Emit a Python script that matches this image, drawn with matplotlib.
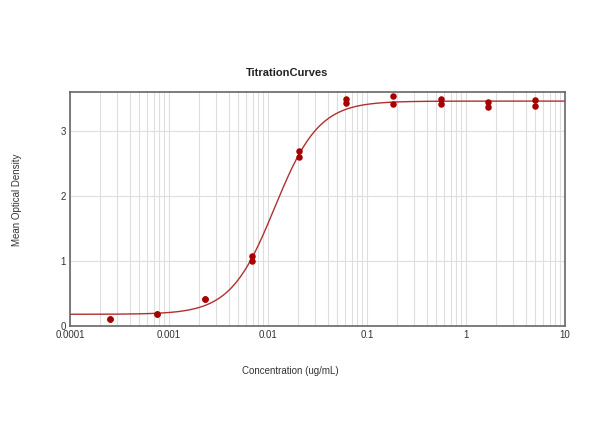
import matplotlib.pyplot as plt
import numpy as np
from matplotlib.ticker import LogLocator, FixedLocator, FixedFormatter

plt.rcParams["font.family"] = ["Liberation Sans", "DejaVu Sans"]

# 3-fold dilution series (ug/mL), duplicate readings
concentration = [5.0, 1.667, 0.556, 0.185, 0.0617, 0.0206, 0.00686, 0.00229, 0.000762, 0.000254]
od_rep1 = [3.48, 3.44, 3.49, 3.54, 3.49, 2.70, 1.07, 0.42, 0.19, 0.11]
od_rep2 = [3.38, 3.37, 3.41, 3.42, 3.43, 2.60, 1.00, 0.42, 0.19, 0.11]

# 4PL fit parameters
fit_bottom = 0.18
fit_top = 3.46
fit_ec50 = 0.01167
fit_hill = 1.94

x_ticks = [0.0001, 0.001, 0.01, 0.1, 1, 10]
x_tick_labels = ["0.0001", "0.001", "0.01", "0.1", "1", "10"]
y_ticks = [0, 1, 2, 3]

fig = plt.figure(figsize=(6, 4.47), dpi=100)
ax = fig.add_axes([70 / 600, 1 - 326 / 447, 495 / 600, 234 / 447])

xs = np.logspace(-4, 1, 400)
curve = fit_top + (fit_bottom - fit_top) / (1 + (xs / fit_ec50) ** fit_hill)
ax.plot(xs, curve, color="#b03030", lw=1.0, zorder=2)

conc = np.array(concentration)
ax.scatter(np.concatenate([conc, conc]), od_rep1 + od_rep2,
           s=22, color="#a80000", zorder=3, linewidths=0)

ax.set_xscale("log")
ax.set_xlim(1e-4, 10)
ax.set_ylim(0, 3.6)
ax.xaxis.set_major_locator(FixedLocator(x_ticks))
ax.xaxis.set_major_formatter(FixedFormatter(x_tick_labels))
ax.xaxis.set_minor_locator(LogLocator(base=10, subs=np.arange(2, 10)))
ax.xaxis.set_minor_formatter(plt.NullFormatter())
ax.set_yticks(y_ticks)

ax.grid(True, which="both", axis="x", color="#dedede", lw=0.8)
ax.grid(True, which="major", axis="y", color="#dedede", lw=0.8)
ax.set_axisbelow(True)
ax.tick_params(which="both", length=0, labelsize=7, colors="#333333", pad=3)
for sp in ax.spines.values():
    sp.set_color("#666666")
    sp.set_linewidth(1.2)

fig.text(287 / 600, 1 - 73 / 447, "TitrationCurves", ha="center", va="center",
         fontsize=8, fontweight="bold", color="#222222")
fig.text(290 / 600, 1 - 371 / 447, "Concentration (ug/mL)", ha="center", va="center",
         fontsize=7, color="#333333")
fig.text(17 / 600, 1 - 200 / 447, "Mean Optical Density", ha="center", va="center",
         rotation=90, fontsize=7, color="#333333")

fig.savefig("out.png", dpi=100)
